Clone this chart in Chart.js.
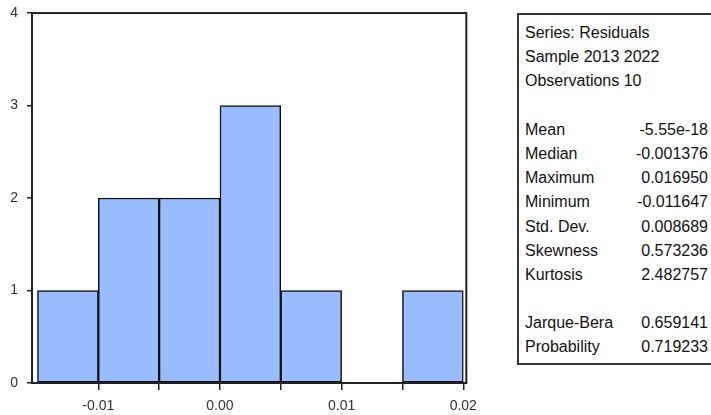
<!DOCTYPE html>
<html>
<head>
<meta charset="utf-8">
<title>Histogram of residuals</title>
<script src="https://cdn.jsdelivr.net/npm/chart.js@4.4.0/dist/chart.umd.min.js"></script>
<style>
  body { margin:0; width:711px; height:415px; overflow:hidden; position:relative; background:#fff;
         font-family:"Liberation Sans", Arial, sans-serif; }
  #wrap { position:absolute; left:0; top:0; width:485px; height:415px; }
  #stats { position:absolute; left:517px; top:13px; width:230px; height:352px; box-sizing:border-box;
           border:2px solid #333; border-right:none; padding:6px 0 0 6px;
           font-size:16px; color:#111; }
  #stats .row { display:flex; justify-content:space-between; width:183px; height:24.2px; line-height:24.2px; white-space:nowrap; }
</style>
</head>
<body>
<div id="wrap"><canvas id="hist"></canvas></div>
<div id="stats"></div>

<script>
/* --- données --- */
const binCenters  = [-0.0125, -0.0075, -0.0025, 0.0025, 0.0075, 0.0125, 0.0175];
const counts      = [1, 2, 2, 3, 1, 0, 1];
const xTickValues = [-0.01, -0.005, 0, 0.005, 0.01, 0.015, 0.02];
const xTickLabels = ['-0.01', '', '0.00', '', '0.01', '', '0.02'];
const yTickValues = [0, 1, 2, 3, 4];

const headerLines = ['Series: Residuals', 'Sample 2013 2022', 'Observations 10'];
const statNames   = ['Mean', 'Median', 'Maximum', 'Minimum', 'Std. Dev.', 'Skewness', 'Kurtosis'];
const statValues  = ['-5.55e-18', '-0.001376', '0.016950', '-0.011647', '0.008689', '0.573236', '2.482757'];
const testNames   = ['Jarque-Bera', 'Probability'];
const testValues  = ['0.659141', '0.719233'];

/* --- encadré statistiques --- */
const box = document.getElementById('stats');
const addRow = (a, b) => {
  const r = document.createElement('div'); r.className = 'row';
  r.innerHTML = `<span>${a}</span><span>${b}</span>`;
  box.appendChild(r);
};
headerLines.forEach(t => addRow(t, ''));
addRow('&nbsp;', '');
statNames.forEach((n, i) => addRow(n, statValues[i]));
addRow('&nbsp;', '');
testNames.forEach((n, i) => addRow(n, testValues[i]));

/* --- cadre autour de la zone du graphe --- */
const frame = {
  id: 'frame',
  afterDraw(c) {
    const a = c.chartArea, ctx = c.ctx;
    ctx.save();
    ctx.strokeStyle = '#222'; ctx.lineWidth = 2;
    ctx.strokeRect(a.left, a.top, a.right - a.left, a.bottom - a.top);
    ctx.restore();
  }
};

const tickFont  = { family: '"Liberation Sans", Arial, sans-serif', size: 14 };
const yTickFont = { family: '"Liberation Sans", Arial, sans-serif', size: 14, lineHeight: 0.58 };

new Chart(document.getElementById('hist'), {
  type: 'bar',
  data: {
    datasets: [{
      data: binCenters.map((x, i) => ({ x, y: counts[i] })),
      backgroundColor: '#99bbff',
      borderColor: '#111',
      borderWidth: 1.5,
      borderSkipped: false,
      barPercentage: 1,
      categoryPercentage: 1
    }]
  },
  plugins: [frame],
  options: {
    responsive: true, maintainAspectRatio: false, animation: false,
    layout: { padding: { top: 9, right: 14, left: 0, bottom: 0 } },
    plugins: { legend: { display: false }, tooltip: { enabled: false } },
    scales: {
      x: {
        type: 'linear', min: -0.01545, max: 0.02025, offset: false,
        afterBuildTicks: s => { s.ticks = xTickValues.map(v => ({ value: v })); },
        afterFit: s => { s.height = 32; },
        ticks: { autoSkip: false, maxRotation: 0, padding: 8, color: '#333', font: tickFont,
                 callback: (v, i) => xTickLabels[i] },
        grid: { offset: false, drawOnChartArea: false, drawTicks: true, tickLength: 7, color: '#222', lineWidth: 1.5 },
        border: { display: false }
      },
      y: {
        min: 0, max: 4,
        afterBuildTicks: s => { s.ticks = yTickValues.map(v => ({ value: v })); },
        afterFit: s => { s.width = 32; },
        ticks: { padding: 9, color: '#333', font: yTickFont },
        grid: { drawOnChartArea: false, drawTicks: true, tickLength: 5, color: '#222', lineWidth: 1.5 },
        border: { display: false }
      }
    }
  }
});
</script>
</body>
</html>
